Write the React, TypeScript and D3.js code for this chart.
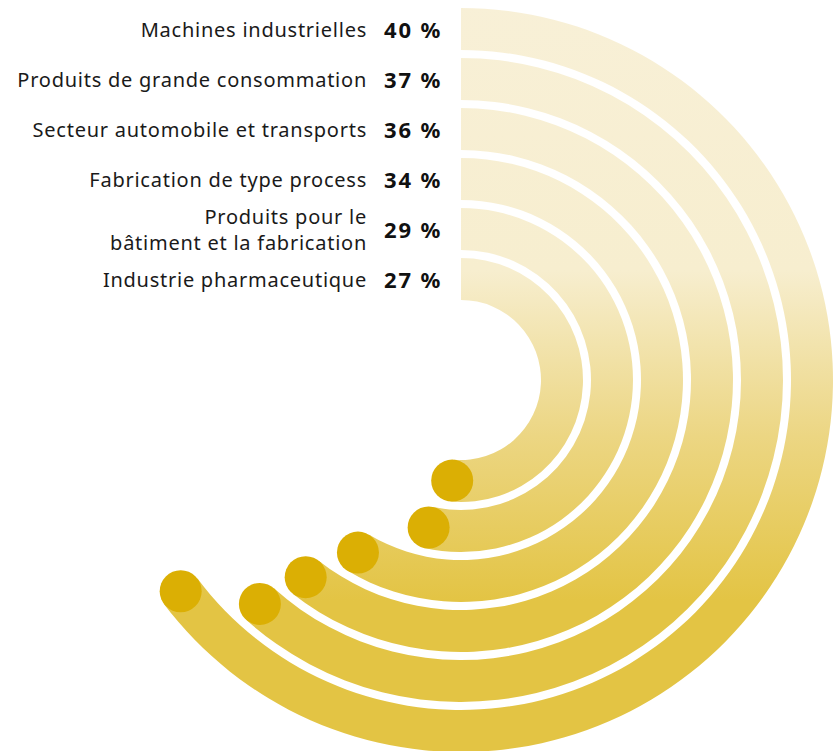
import React, { useEffect, useRef } from "react"
import * as d3 from "d3"

// data
const labels: string[][] = [
    ["Machines industrielles"],
    ["Produits de grande consommation"],
    ["Secteur automobile et transports"],
    ["Fabrication de type process"],
    ["Produits pour le", "bâtiment et la fabrication"],
    ["Industrie pharmaceutique"],
]
const values: number[] = [40, 37, 36, 34, 29, 27]

const W = 840
const H = 751

const App = () => {
    const ref = useRef<SVGSVGElement>(null)

    useEffect(() => {
        if (!ref.current) return
        const svg = d3.select(ref.current)
        svg.selectAll("*").remove()

        const cx = 461
        const cy = 380
        const outerR = 372
        const thick = 42
        const step = 50

        // outer radius for ring index
        const ring = d3.scaleLinear().domain([0, 1]).range([outerR, outerR - step])
        // angle (deg, clockwise from top) for a value
        const angle = d3.scaleLinear().domain([27, 40]).range([185, 233])

        const defs = svg.append("defs")
        const grad = defs
            .append("linearGradient")
            .attr("id", "ringGrad")
            .attr("gradientUnits", "userSpaceOnUse")
            .attr("x1", 0)
            .attr("y1", -cy)
            .attr("x2", 0)
            .attr("y2", H - cy)
        grad.append("stop").attr("offset", 0.0).attr("stop-color", "#f8f0d7")
        grad.append("stop").attr("offset", 0.36).attr("stop-color", "#f7eecf")
        grad.append("stop").attr("offset", 0.58).attr("stop-color", "#ecd683")
        grad.append("stop").attr("offset", 0.8).attr("stop-color", "#e3c444")
        grad.append("stop").attr("offset", 1).attr("stop-color", "#e3c444")

        const g = svg.append("g").attr("transform", `translate(${cx},${cy})`)

        const arc = d3.arc<any>()

        values.forEach((v, i) => {
            const ro = ring(i)
            const ri = ro - thick
            const a = (angle(v) * Math.PI) / 180
            g.append("path")
                .attr(
                    "d",
                    arc({ innerRadius: ri, outerRadius: ro, startAngle: 0, endAngle: a }) as string,
                )
                .attr("fill", "url(#ringGrad)")
            const rm = (ro + ri) / 2
            g.append("circle")
                .attr("cx", rm * Math.sin(a))
                .attr("cy", -rm * Math.cos(a))
                .attr("r", thick / 2)
                .attr("fill", "#dbaf04")

            const yc = -ro + thick / 2
            const lab = g
                .append("text")
                .attr("x", 367 - cx)
                .attr("text-anchor", "end")
                .attr("font-family", "'Noto Sans', sans-serif")
                .attr("font-size", 20)
                .attr("letter-spacing", 0.75)
                .attr("fill", "#1a1a1a")
            const lines = labels[i]
            lines.forEach((t, j) => {
                lab.append("tspan")
                    .attr("x", 367 - cx)
                    .attr("y", yc + (j - (lines.length - 1) / 2) * 26)
                    .attr("dy", "0.42em")
                    .text(t)
            })
            g.append("text")
                .attr("x", 384 - cx)
                .attr("y", yc)
                .attr("dy", "0.42em")
                .attr("font-family", "'Noto Sans', sans-serif")
                .attr("font-size", 22)
                .attr("font-weight", 700)
                .attr("letter-spacing", 1.9)
                .attr("fill", "#111")
                .text(`${v} %`)
        })
    }, [])

    return (
        <div style={{ position: "absolute", left: 0, top: 0 }}>
            <svg ref={ref} width={W} height={H} />
        </div>
    )
}

export default App
